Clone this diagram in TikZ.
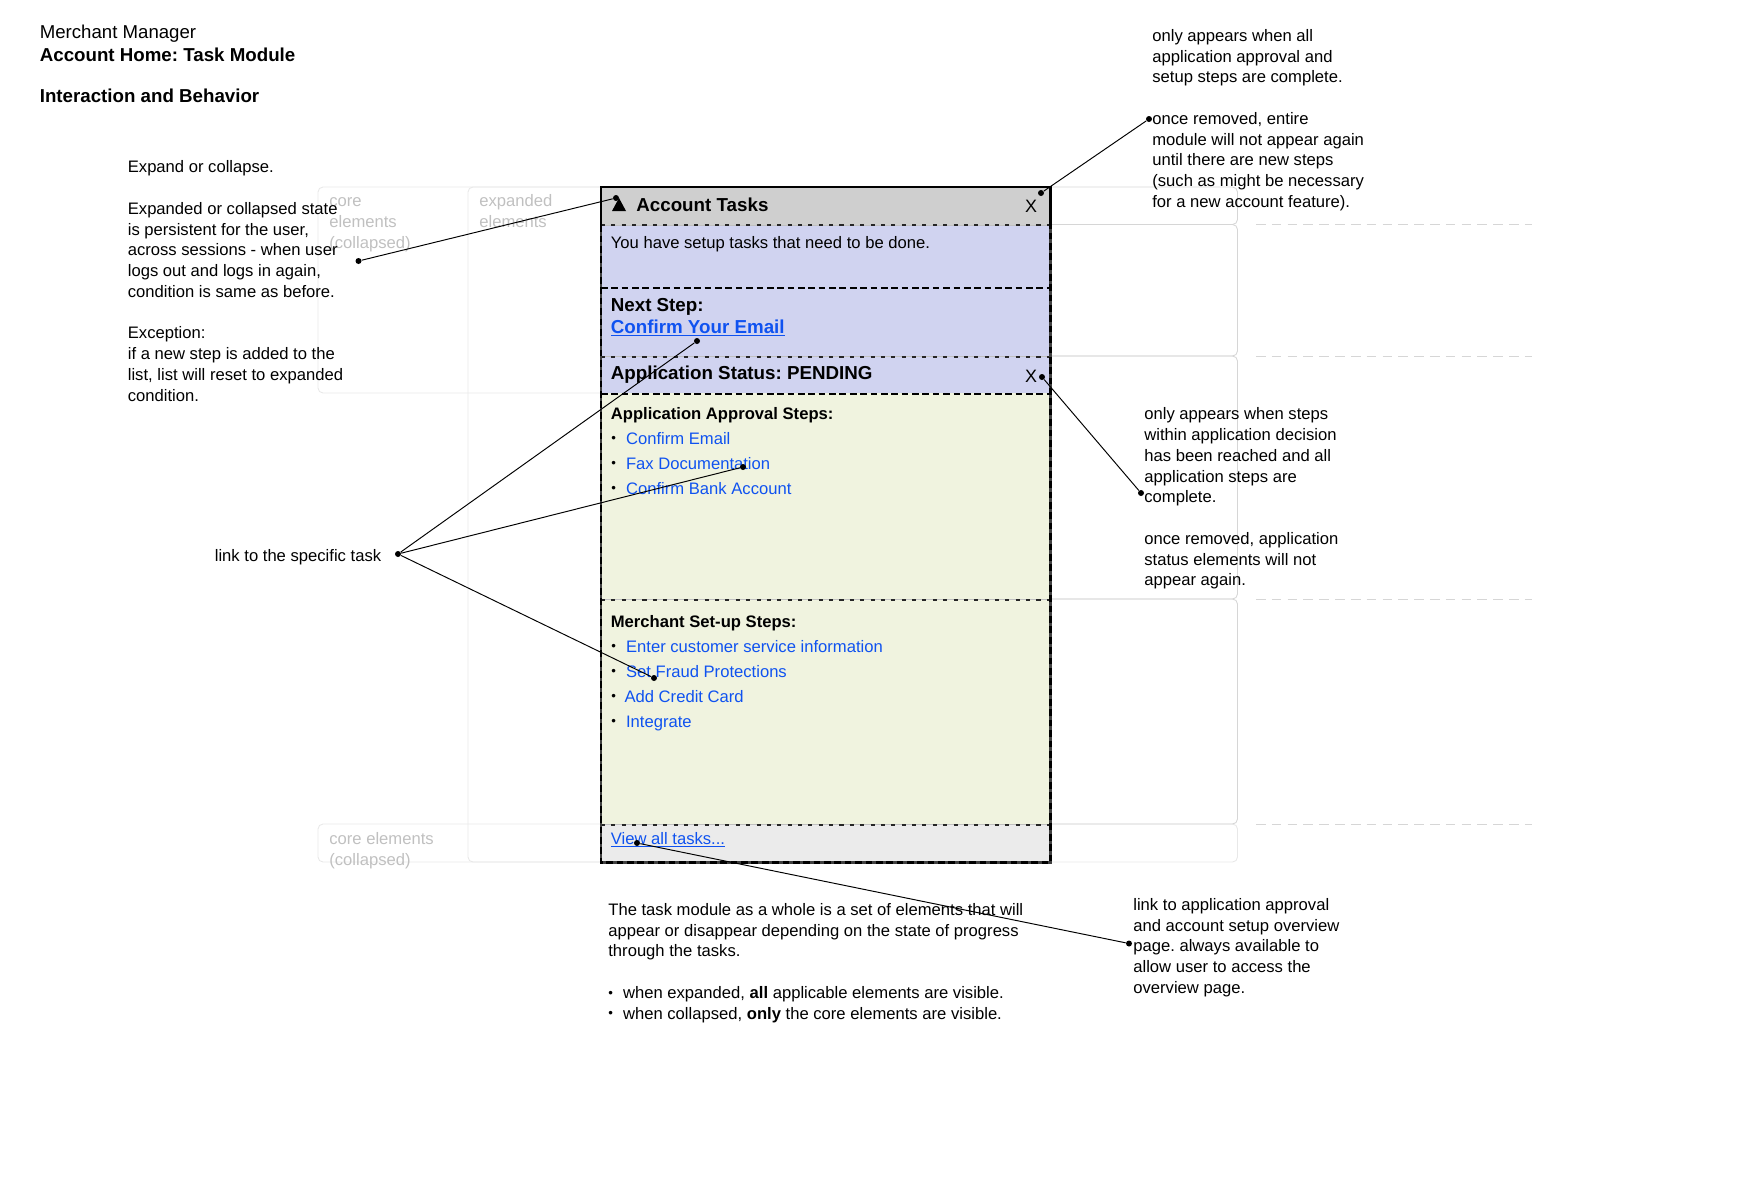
\documentclass[tikz,border=0pt]{standalone}
\usepackage{fontspec}
\setmainfont{Liberation Sans}
\definecolor{headgray}{HTML}{CFCFCF}
\definecolor{panelblue}{HTML}{D0D3F0}
\definecolor{panelgreen}{HTML}{F0F3DF}
\definecolor{footgray}{HTML}{EBEBEB}
\definecolor{linkblue}{HTML}{0F52F0}
\definecolor{faintline}{HTML}{E8E8E8}
\definecolor{rowline}{HTML}{D6D6D6}
\definecolor{fainttext}{HTML}{C0C0C0}
\newcommand{\notefont}{\fontsize{9.46}{11.8}\selectfont}
\newcommand{\headfont}{\fontsize{10.68}{12.4}\selectfont}
\newcommand{\titlefont}{\fontsize{10.6}{13}\selectfont}
\newcommand{\bul}{\makebox[.294cm][l]{\raisebox{.7pt}{\fontsize{7.5}{7.5}\selectfont\textbullet}}}
\tikzset{
  every node/.style={inner sep=0pt, font=\notefont},
  note/.style={anchor=north west, align=left},
  textline/.style={anchor=base west},
  faint/.style={anchor=base west, text=fainttext},
  tasklink/.style={anchor=base west, text=linkblue},
  panel/.style={anchor=north west, minimum width=8.98cm},
  dotmark/.style={circle, fill=black, minimum size=.12cm},
  faintbox/.style={draw=faintline, line width=.5pt, rounded corners=.1cm},
  rowbox/.style={draw=rowline, line width=.5pt, rounded corners=.1cm},
  guide/.style={draw=rowline, line width=.5pt, dash pattern=on 5.5pt off 3.5pt},
  rowrule/.style={draw=rowline!90!black, line width=.8pt},
  shortdash/.style={draw=black!85, line width=.9pt, dash pattern=on 2.3pt off 3.6pt},
  longdash/.style={draw=black, line width=1pt, dash pattern=on 3.8pt off 2.1pt},
  frameline/.style={draw=black!75, line width=1.5pt},
  framedash/.style={draw=black, line width=1.5pt, dash pattern=on 3.8pt off 2.1pt},
  leader/.style={draw=black, line width=.55pt},
}
\begin{document}
\frenchspacing
\begin{tikzpicture}
  \useasboundingbox (0,0) rectangle (34.8,-23.6);
  %%%%%%%%%%%%%%%%%%%%%%%%%%%%%%%%%%%%%%%%%%%%%%%
  \draw[faintbox] (6.36,-3.74) rectangle (13,-7.86);
  \draw[faintbox] (9.36,-3.74) rectangle (13,-17.24);
  \draw[faintbox] (6.36,-16.48) rectangle (24.75,-17.24);
  \draw[rowbox] (13,-3.74) rectangle (24.75,-4.49);
  \draw[rowbox] (13,-4.49) rectangle (24.75,-7.12);
  \draw[rowbox] (13,-7.12) rectangle (24.75,-11.98);
  \draw[rowbox] (13,-11.98) rectangle (24.75,-16.48);
  \draw[guide] (25.12,-4.49) -- (30.63,-4.49)
               (25.12,-7.12) -- (30.63,-7.12)
               (25.12,-11.98) -- (30.63,-11.98)
               (25.12,-16.48) -- (30.63,-16.48);
  \node[faint] (core1) at (6.58,-4.12) {core};
  \node[faint] (core2) at (6.58,-4.54) {elements};
  \node[faint] (core3) at (6.58,-4.96) {(collapsed)};
  \node[faint] (exp1) at (9.58,-4.12) {expanded};
  \node[faint] (exp2) at (9.58,-4.54) {elements};
  \node[faint] (core4) at (6.58,-16.88) {core elements};
  \node[faint] (core5) at (6.58,-17.3) {(collapsed)};
  %%%%%%%%%%%%%%%%%%%%%%%%%%%%%%%%%%%%%%%%%%%%%%%
  \node[textline, font=\titlefont] (title1) at (.79,-.76) {Merchant Manager};
  \node[textline, font=\fontsize{10.65}{13}\selectfont\bfseries] (title2) at (.79,-1.22) {Account Home: Task Module};
  \node[textline, font=\fontsize{10.65}{13}\selectfont\bfseries] (title3) at (.79,-2.04) {Interaction and Behavior};
  %%%%%%%%%%%%%%%%%%%%%%%%%%%%%%%%%%%%%%%%%%%%%%%
  \node[note] (expandnote) at (2.55,-3.21) {Expand or collapse.\\ \\
    Expanded or collapsed state\\ is persistent for the user,\\ across sessions - when user\\
    logs out and logs in again,\\ condition is same as before.\\ \\
    Exception:\\ if a new step is added to the\\ list, list will reset to expanded\\ condition.};
  \node[textline] (tasknote) at (4.29,-11.23) {link to the specific task};
  \node[note] (removenote) at (23.04,-.58) {only appears when all\\ application approval and\\ setup steps are complete.\\ \\
    once removed, entire\\ module will not appear again\\ until there are new steps\\
    (such as might be necessary\\ for a new account feature).};
  \node[note] (statusnote) at (22.88,-8.15) {only appears when steps\\ within application decision\\ has been reached and all\\
    application steps are\\ complete.\\ \\ once removed, application\\ status elements will not\\ appear again.};
  \node[note] (overviewnote) at (22.66,-17.96) {link to application approval\\ and account setup overview\\
    page. always available to\\ allow user to access the\\ overview page.};
  \node[note] (modulenote) at (12.16,-18.06) {The task module as a whole is a set of elements that will\\
    appear or disappear depending on the state of progress\\ through the tasks.\\ \\
    \bul when expanded, \textbf{all} applicable elements are visible.\\
    \bul when collapsed, \textbf{only} the core elements are visible.};
  %%%%%%%%%%%%%%%%%%%%%%%%%%%%%%%%%%%%%%%%%%%%%%%
  \node[panel, fill=headgray, minimum height=.75cm] (head) at (12.02,-3.74) {};
  \node[panel, fill=panelblue, minimum height=1.25cm] (intro) at (12.02,-4.49) {};
  \node[panel, fill=panelblue, minimum height=1.38cm] (nextstep) at (12.02,-5.74) {};
  \node[panel, fill=panelblue, minimum height=.74cm] (status) at (12.02,-7.12) {};
  \node[panel, fill=panelgreen, minimum height=4.12cm] (approval) at (12.02,-7.86) {};
  \node[panel, fill=panelgreen, minimum height=4.5cm] (setup) at (12.02,-11.98) {};
  \node[panel, fill=footgray, minimum height=.76cm] (foot) at (12.02,-16.48) {};
  \draw[rowrule] (head.south west) -- (head.south east)
        (nextstep.south west) -- (nextstep.south east)
        (approval.south west) -- (approval.south east)
        (setup.south west) -- (setup.south east);
  \draw[shortdash] (head.south west) -- (head.south east)
        (nextstep.south west) -- (nextstep.south east)
        (approval.south west) -- (approval.south east)
        (setup.south west) -- (setup.south east);
  \draw[longdash] (intro.south west) -- (intro.south east)
        (status.south west) -- (status.south east);
  \draw[frameline] (head.north west) rectangle (foot.south east);
  \draw[framedash] (head.south west) -- (foot.south west) -- (foot.south east) -- (head.south east);
  \draw[draw=black, line width=1.5pt] (head.south west) |- (head.north east) -- (head.south east);
  %%%%%%%%%%%%%%%%%%%%%%%%%%%%%%%%%%%%%%%%%%%%%%%
  \fill (12.24,-4.22) -- (12.38,-3.96) -- (12.52,-4.22) -- cycle;
  \node[textline, font=\headfont\bfseries] (headtext) at (12.72,-4.23) {Account Tasks};
  \node[font=\fontsize{10.2}{12}\selectfont] (closehead) at (20.62,-4.12) {X};
  \node[textline] (introtext) at (12.21,-4.96) {You have setup tasks that need to be done.};
  \node[textline, font=\headfont\bfseries] (nexttext) at (12.21,-6.22) {Next Step:};
  \node[tasklink, font=\headfont\bfseries] (nextlink) at (12.21,-6.66) {\underline{Confirm Your Email}};
  \node[textline, font=\headfont\bfseries] (statustext) at (12.21,-7.58) {Application Status: PENDING};
  \node[font=\fontsize{10.2}{12}\selectfont] (closestatus) at (20.62,-7.52) {X};
  \node[textline, font=\notefont\bfseries] (approvaltext) at (12.21,-8.38) {Application Approval Steps:};
  \node[tasklink] (item1) at (12.22,-8.88) {{\color{black}\bul}Confirm Email};
  \node[tasklink] (item2) at (12.22,-9.38) {{\color{black}\bul}Fax Documentation};
  \node[tasklink] (item3) at (12.22,-9.88) {{\color{black}\bul}Confirm Bank Account};
  \node[textline, font=\notefont\bfseries] (setuptext) at (12.21,-12.54) {Merchant Set-up Steps:};
  \node[tasklink] (item4) at (12.22,-13.04) {{\color{black}\bul}Enter customer service information};
  \node[tasklink] (item5) at (12.22,-13.54) {{\color{black}\bul}Set Fraud Protections};
  \node[tasklink] (item6) at (12.22,-14.04) {{\color{black}\bul}\hspace{-.03cm}Add Credit Card};
  \node[tasklink] (item7) at (12.22,-14.54) {{\color{black}\bul}Integrate};
  \node[tasklink] (footlink) at (12.21,-16.88) {\underline{View all tasks...}};
  %%%%%%%%%%%%%%%%%%%%%%%%%%%%%%%%%%%%%%%%%%%%%%%
  \node[dotmark] (a1) at (7.17,-5.22) {};
  \node[dotmark] (a2) at (12.32,-3.96) {};
  \node[dotmark] (b1) at (7.96,-11.08) {};
  \node[dotmark] (b2) at (13.94,-6.82) {};
  \node[dotmark] (b3) at (14.86,-9.34) {};
  \node[dotmark] (b4) at (13.08,-13.56) {};
  \node[dotmark] (c1) at (20.82,-3.86) {};
  \node[dotmark] (c2) at (22.98,-2.38) {};
  \node[dotmark] (d1) at (20.84,-7.54) {};
  \node[dotmark] (d2) at (22.82,-9.86) {};
  \node[dotmark] (e1) at (12.74,-16.86) {};
  \node[dotmark] (e2) at (22.58,-18.87) {};
  \draw[leader] (a1) -- (a2);
  \draw[leader] (b1) -- (b2)
        (b1) -- (b3)
        (b1) -- (b4);
  \draw[leader] (c1) -- (c2);
  \draw[leader] (d1) -- (d2);
  \draw[leader] (e1) -- (e2);
\end{tikzpicture}
\end{document}
